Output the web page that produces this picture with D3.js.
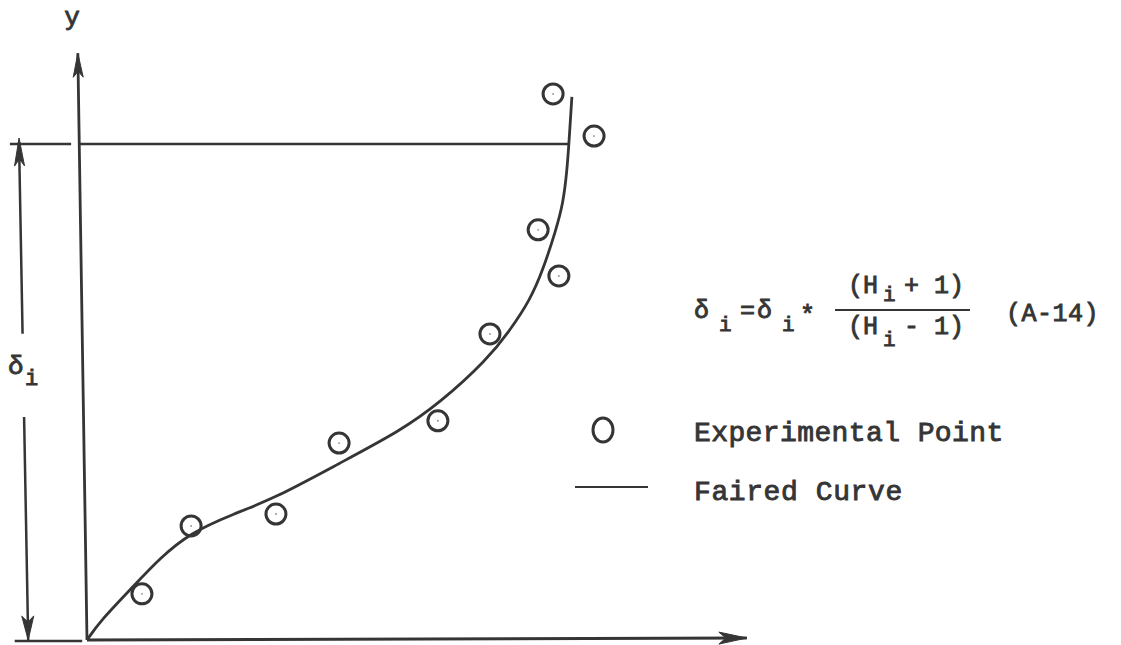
<!DOCTYPE html>
<html>
<head>
<meta charset="utf-8">
<script src="https://cdn.jsdelivr.net/npm/d3@7"></script>
<style>
  html, body { margin: 0; padding: 0; background: #ffffff; }
  svg { display: block; }
  text { font-family: "Liberation Mono", "DejaVu Sans Mono", monospace; fill: #353535; stroke: #353535; stroke-width: 0.9px; }
</style>
</head>
<body>
<svg id="chart" width="1121" height="645"></svg>
<script>
// Velocity ratio (u/Ue) vs height y, normalised by the boundary-layer thickness delta_i
const pointX = [0.114, 0.216, 0.392, 0.523, 0.728, 0.836, 0.936, 0.979, 0.967, 1.052];
const pointY = [0.093, 0.230, 0.254, 0.397, 0.442, 0.617, 0.827, 0.734, 1.101, 1.016];

// Faired curve through the experimental points
const curveX = [0.000, 0.027, 0.095, 0.151, 0.214, 0.303, 0.386, 0.525, 0.649, 0.732, 0.830, 0.878, 0.919, 0.946, 0.973, 0.988, 0.996, 1.000, 1.006];
const curveY = [0.000, 0.038, 0.107, 0.165, 0.216, 0.254, 0.284, 0.357, 0.421, 0.478, 0.565, 0.625, 0.685, 0.746, 0.827, 0.881, 0.948, 1.004, 1.095];

// Axis extents (the hand-drawn y axis leans slightly)
const xAxisEnd = [1.369, 0.004];
const yAxisEnd = [-0.019, 1.183];
// Thickness marker delta_i = 1 and its dimension line
const deltaLevel = 1;
const dimTop = [-0.141, 1.004];
const dimBottom = [-0.122, 0.0];
const dimGap = [0.615, 0.448];

const axisLabel = "y";
const legendLabels = ["Experimental Point", "Faired Curve"];

const ink = "#353535";
const svg = d3.select("#chart");

const x = d3.scaleLinear().domain([0, 1]).range([87, 569]);
const y = d3.scaleLinear().domain([0, 1]).range([640, 144]);

// filled arrowhead whose tip is at (tx,ty), pointing away from (fx,fy)
function arrowHead(g, fx, fy, tx, ty, len, half) {
  const dx = tx - fx, dy = ty - fy, d = Math.hypot(dx, dy);
  const ux = dx / d, uy = dy / d;
  const bx = tx - ux * len, by = ty - uy * len;
  const px = -uy, py = ux;
  g.append("path")
    .attr("d", `M${tx},${ty}L${bx + px * half},${by + py * half}L${tx - ux * len * 0.75},${ty - uy * len * 0.75}L${bx - px * half},${by - py * half}Z`)
    .attr("fill", ink).attr("stroke", ink).attr("stroke-width", 1);
}

const g = svg.append("g");
const lw = 2.8;

// axes
const ox = x(0), oy = y(0);
g.append("line").attr("x1", ox).attr("y1", oy).attr("x2", x(xAxisEnd[0])).attr("y2", y(xAxisEnd[1]))
  .attr("stroke", ink).attr("stroke-width", lw);
arrowHead(g, ox, oy, x(xAxisEnd[0]), y(xAxisEnd[1]), 28, 6);
g.append("line").attr("x1", ox).attr("y1", oy).attr("x2", x(yAxisEnd[0])).attr("y2", y(yAxisEnd[1]))
  .attr("stroke", ink).attr("stroke-width", lw);
arrowHead(g, ox, oy, x(yAxisEnd[0]), y(yAxisEnd[1]), 24, 5);

// delta_i level line: short stub left of the axis, then across to the curve
g.append("line").attr("x1", x(-0.160)).attr("x2", x(-0.033)).attr("y1", y(deltaLevel)).attr("y2", y(deltaLevel))
  .attr("stroke", ink).attr("stroke-width", 2.5);
g.append("line").attr("x1", x(-0.016)).attr("x2", x(1.0)).attr("y1", y(deltaLevel)).attr("y2", y(deltaLevel))
  .attr("stroke", ink).attr("stroke-width", 2.5);
// base stub at y = 0
g.append("line").attr("x1", x(-0.150)).attr("x2", x(-0.010)).attr("y1", y(-0.002)).attr("y2", y(-0.002))
  .attr("stroke", ink).attr("stroke-width", 2.5);

// dimension line for delta_i, broken around its label
const dimAt = t => [x(dimBottom[0] + (dimTop[0] - dimBottom[0]) * t), y(dimBottom[1] + (dimTop[1] - dimBottom[1]) * t)];
let a = dimAt(dimGap[0]), b = dimAt(1);
g.append("line").attr("x1", a[0]).attr("y1", a[1]).attr("x2", b[0]).attr("y2", b[1]).attr("stroke", ink).attr("stroke-width", 2.5);
arrowHead(g, a[0], a[1], b[0], b[1] - 4, 28, 5);
a = dimAt(dimGap[1]); b = dimAt(0);
g.append("line").attr("x1", a[0]).attr("y1", a[1]).attr("x2", b[0]).attr("y2", b[1]).attr("stroke", ink).attr("stroke-width", 2.5);
arrowHead(g, a[0], a[1], b[0], b[1], 24, 6);

// faired curve (smoothed B-spline through the fairing points)
const curveData = curveX.map((v, i) => [v, curveY[i]]);
g.append("path")
  .datum(curveData)
  .attr("d", d3.line().x(d => x(d[0])).y(d => y(d[1])).curve(d3.curveBasis))
  .attr("fill", "none").attr("stroke", ink).attr("stroke-width", lw);

// experimental points
const pts = pointX.map((v, i) => [v, pointY[i]]);
g.selectAll("circle.pt").data(pts).join("circle")
  .attr("class", "pt")
  .attr("cx", d => x(d[0])).attr("cy", d => y(d[1])).attr("r", 10)
  .attr("fill", "none").attr("stroke", ink).attr("stroke-width", 3);
g.selectAll("circle.dot").data(pts).join("circle")
  .attr("class", "dot")
  .attr("cx", d => x(d[0])).attr("cy", d => y(d[1])).attr("r", 0.9)
  .attr("fill", "#888");

// axis and thickness labels
svg.append("text").attr("x", 72).attr("y", 25).attr("text-anchor", "middle").attr("font-size", 26).text(axisLabel);
svg.append("text").attr("x", 8).attr("y", 374).attr("font-size", 26).text("δ");
svg.append("text").attr("x", 25).attr("y", 385).attr("font-size", 22).text("i");

// formula (A-14)
const f = svg.append("g");
f.append("text").attr("x", 694).attr("y", 318).attr("font-size", 25).text("δ");
f.append("text").attr("x", 719).attr("y", 331).attr("font-size", 21).text("i");
f.append("text").attr("x", 740).attr("y", 318).attr("font-size", 25).text("=");
f.append("text").attr("x", 757).attr("y", 318).attr("font-size", 25).text("δ");
f.append("text").attr("x", 782).attr("y", 331).attr("font-size", 21).text("i");
f.append("text").attr("x", 800).attr("y", 323).attr("font-size", 25).text("*");
svg.append("line").attr("x1", 835).attr("x2", 970).attr("y1", 310).attr("y2", 310).attr("stroke", ink).attr("stroke-width", 2.2);
f.append("text").attr("x", 848).attr("y", 293).attr("font-size", 25).text("(H");
f.append("text").attr("x", 883).attr("y", 301).attr("font-size", 21).text("i");
f.append("text").attr("x", 904).attr("y", 293).attr("font-size", 25).text("+ 1)");
f.append("text").attr("x", 848).attr("y", 334).attr("font-size", 25).text("(H");
f.append("text").attr("x", 883).attr("y", 346).attr("font-size", 21).text("i");
f.append("text").attr("x", 904).attr("y", 334).attr("font-size", 25).text("- 1)");
f.append("text").attr("x", 1006).attr("y", 321).attr("font-size", 25).attr("letter-spacing", 0.5).text("(A-14)");

// legend
svg.append("ellipse").attr("cx", 603).attr("cy", 430).attr("rx", 10).attr("ry", 12)
  .attr("fill", "none").attr("stroke", ink).attr("stroke-width", 3);
svg.append("line").attr("x1", 575).attr("x2", 648).attr("y1", 487).attr("y2", 487)
  .attr("stroke", ink).attr("stroke-width", 2.2);
svg.append("text").attr("x", 694).attr("y", 441).attr("font-size", 28).attr("letter-spacing", 0.4).text(legendLabels[0]);
svg.append("text").attr("x", 694).attr("y", 500).attr("font-size", 28).attr("letter-spacing", 0.6).text(legendLabels[1]);
</script>
</body>
</html>
